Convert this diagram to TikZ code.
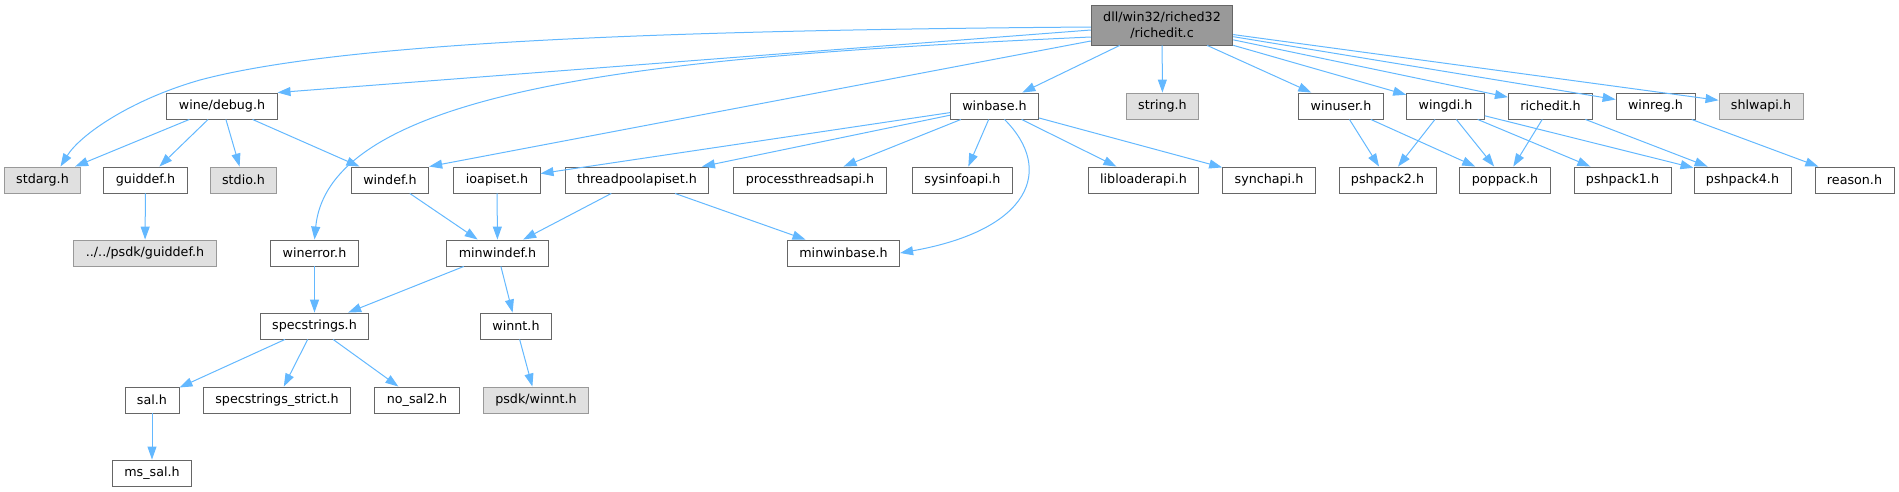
\documentclass[tikz,border=0pt]{standalone}
\usepackage{fontspec}
\setmainfont{DejaVu Sans}
\usepackage{xcolor}
\usetikzlibrary{calc,positioning,arrows.meta}

\definecolor{edgeblue}{HTML}{63B8FF}
\definecolor{boxline}{HTML}{666666}
\definecolor{rootfill}{HTML}{999999}
\definecolor{sysfill}{HTML}{E0E0E0}
\definecolor{sysline}{HTML}{999999}

\begin{document}
\begin{tikzpicture}[
            x=1pt, y=-1pt,
            hbox/.style={draw=boxline, fill=white, line width=0.9pt, minimum height=26pt, inner xsep=12pt, inner ysep=0pt, font=\fontsize{12.7}{16}\selectfont},
            sysbox/.style={hbox, draw=sysline, fill=sysfill},
            rootbox/.style={hbox, fill=rootfill, minimum height=40pt, align=center},
            inc/.style={-{Triangle[length=13pt,width=9pt]}, draw=edgeblue, line width=1pt}
        ]

        \useasboundingbox (0,0) rectangle (1899,491);

        % --- FICHIER RACINE ---
        \node[rootbox] (richedit) at (1162,25) {dll/win32/riched32\\/richedit.c};

        % --- RANG 1 ---
        \node[hbox] (winedebug) at (222,106) {wine/debug.h};
        \node[hbox] (winbase) at (994.5,106) {winbase.h};
        \node[sysbox] (string) at (1162.5,106) {string.h};
        \node[hbox] (winuser) at (1341,106) {winuser.h};
        \node[hbox] (wingdi) at (1445.5,106) {wingdi.h};
        \node[hbox] (richedith) at (1550.5,106) {richedit.h};
        \node[hbox] (winreg) at (1655.5,106) {winreg.h};
        \node[sysbox] (shlwapi) at (1761,106) {shlwapi.h};

        % --- RANG 2 ---
        \node[sysbox] (stdarg) at (42.5,180) {stdarg.h};
        \node[hbox] (guiddef) at (145.5,180) {guiddef.h};
        \node[sysbox] (stdio) at (243.5,180) {stdio.h};
        \node[hbox] (windef) at (390,180) {windef.h};
        \node[hbox] (ioapiset) at (497,180) {ioapiset.h};
        \node[hbox] (threadpool) at (637,180) {threadpoolapiset.h};
        \node[hbox] (procthreads) at (810,180) {processthreadsapi.h};
        \node[hbox] (sysinfo) at (962.5,180) {sysinfoapi.h};
        \node[hbox] (libloader) at (1143.5,180) {libloaderapi.h};
        \node[hbox] (synchapi) at (1269,180) {synchapi.h};
        \node[hbox] (pshpack2) at (1387.5,180) {pshpack2.h};
        \node[hbox] (poppack) at (1505,180) {poppack.h};
        \node[hbox] (pshpack1) at (1622.5,180) {pshpack1.h};
        \node[hbox] (pshpack4) at (1742.5,180) {pshpack4.h};
        \node[hbox] (reason) at (1854.5,180) {reason.h};

        % --- RANG 3 ---
        \node[sysbox] (psdkguiddef) at (145,253) {../../psdk/guiddef.h};
        \node[hbox] (winerror) at (314.5,253) {winerror.h};
        \node[hbox] (minwindef) at (497.5,253) {minwindef.h};
        \node[hbox] (minwinbase) at (843.5,253) {minwinbase.h};

        % --- RANGS 4 A 6 ---
        \node[hbox] (specstrings) at (314.5,326) {specstrings.h};
        \node[hbox] (winnt) at (516,326) {winnt.h};
        \node[hbox] (sal) at (152,400) {sal.h};
        \node[hbox] (specstrict) at (277,400) {specstrings\_strict.h};
        \node[hbox] (nosal) at (417,400) {no\_sal2.h};
        \node[sysbox] (psdkwinnt) at (536,400) {psdk/winnt.h};
        \node[hbox] (mssal) at (152,473) {ms\_sal.h};

        % --- INCLUSIONS DIRECTES ---
        \foreach \a/\b in {richedit/winbase, richedit/string, richedit/winuser, richedit/wingdi,
                richedit/richedith, richedit/winreg, richedit/shlwapi,
                winedebug/stdarg, winedebug/guiddef, winedebug/stdio, winedebug/windef,
                guiddef/psdkguiddef,
                winbase/ioapiset, winbase/threadpool, winbase/procthreads, winbase/sysinfo,
                winbase/libloader, winbase/synchapi,
                winuser/pshpack2, winuser/poppack,
                wingdi/pshpack2, wingdi/poppack, wingdi/pshpack1, wingdi/pshpack4,
                richedith/poppack, richedith/pshpack4, winreg/reason,
                windef/minwindef, ioapiset/minwindef, threadpool/minwindef, threadpool/minwinbase,
                winerror/specstrings, minwindef/specstrings, minwindef/winnt, winnt/psdkwinnt,
                specstrings/sal, specstrings/specstrict, specstrings/nosal, sal/mssal} {
                \draw[inc] (\a) -- (\b);
            }

        % --- LONGUES COURBES DEPUIS LA RACINE ---
        \draw[inc] ([yshift=-2pt]richedit.west) .. controls (700,30) and (350,40) .. (200,80)
        .. controls (130,100) and (80,135) .. ([xshift=18pt]stdarg.north);
        \draw[inc] ([yshift=-5pt]richedit.west) -- (winedebug.north east);
        \draw[inc] ([yshift=-12pt]richedit.west) .. controls (700,55) and (330,80) .. (winerror.north);
        \draw[inc] ([yshift=-16pt]richedit.west) -- (windef.north east);

        % winbase -> minwinbase contourne sysinfoapi.h
        \draw[inc] ([xshift=10pt]winbase.south) .. controls (1055,170) and (1030,230) .. (minwinbase.east);

    \end{tikzpicture}
\end{document}
